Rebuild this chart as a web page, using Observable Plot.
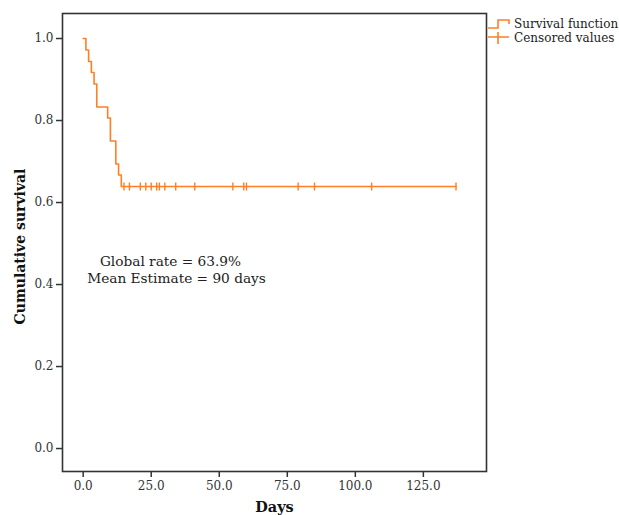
<!DOCTYPE html>
<html>
<head>
<meta charset="utf-8">
<script src="https://cdn.jsdelivr.net/npm/d3@7"></script>
<script src="https://cdn.jsdelivr.net/npm/@observablehq/plot@0.6"></script>
<style>
  html, body { margin: 0; padding: 0; background: #fff; }
  #wrap { position: relative; width: 619px; height: 515px; font-family: "DejaVu Serif", serif; }
  #legend { position: absolute; left: 486px; top: 17px; font-size: 12px; color: #222; line-height: 14px; }
  #legend .row { display: flex; align-items: center; height: 14px; }
  #legend svg { margin-right: 4px; }
</style>
</head>
<body>
<div id="wrap">
  <div id="chart"></div>
  <div id="legend">
    <div class="row"><svg width="24" height="14"><path d="M2,11H12V3H23V7" fill="none" stroke="#ff7f27" stroke-width="1.6"/></svg><span>Survival function</span></div>
    <div class="row"><svg width="24" height="14"><path d="M2,6H23M12,1V13" fill="none" stroke="#ff7f27" stroke-width="1.6"/></svg><span>Censored values</span></div>
  </div>
</div>
<script>
// Kaplan–Meier step curve (time in days, cumulative survival)
const stepDays = [0, 1, 2, 3, 4, 5, 9, 10, 12, 13, 14, 137];
const stepSurvival = [1.000, 0.972, 0.944, 0.917, 0.889, 0.833, 0.806, 0.750, 0.694, 0.667, 0.639, 0.639];
// Censored observations
const censoredDays = [15, 17, 21, 23, 25, 27, 28, 30, 34, 41, 55, 59, 60, 79, 85, 106, 137];
const censoredSurvival = censoredDays.map(() => 0.639);
// Axis ticks
const xTicks = [0, 25, 50, 75, 100, 125];
const yTicks = [0, 0.2, 0.4, 0.6, 0.8, 1.0];
// Labels
const xTitle = "Days";
const yTitle = "Cumulative survival";
const annotations = ["Global rate = 63.9%", "Mean Estimate = 90 days"];

const color = "#ff7f27";
const curve = stepDays.map((d, i) => ({day: d, s: stepSurvival[i]}));
const censored = censoredDays.map((d, i) => ({day: d, s: censoredSurvival[i]}));

const vtick = {
  draw(context, size) {
    const h = 4;
    context.moveTo(0, -h);
    context.lineTo(0, h);
  }
};

const chart = Plot.plot({
  width: 619,
  height: 515,
  marginLeft: 62,
  marginRight: 133,
  marginTop: 13,
  marginBottom: 44,
  style: {fontFamily: "DejaVu Serif, serif", fontSize: "12px", color: "#333", background: "#fff"},
  x: {domain: [-7.6, 148.2]},
  y: {domain: [-0.056, 1.061]},
  marks: [
    Plot.axisX({ticks: xTicks, tickFormat: d => d.toFixed(1), tickSize: 6, tickPadding: 4, stroke: "#333", strokeWidth: 1.5, label: null, fill: "#333", fontSize: 12}),
    Plot.axisY({ticks: yTicks, tickFormat: d => d.toFixed(1), tickSize: 6, tickPadding: 3, stroke: "#333", strokeWidth: 1.5, label: null, fill: "#333", fontSize: 12}),
    Plot.line(curve, {x: "day", y: "s", curve: "step-after", stroke: color, strokeWidth: 1.6}),
    Plot.dot(censored, {x: "day", y: "s", symbol: vtick, stroke: color, strokeWidth: 1.4, r: 4}),
    Plot.text([annotations[0]], {frameAnchor: "top-left", dx: 108, dy: 243, textAnchor: "middle", fontSize: 13.7, fill: "#222"}),
    Plot.text([annotations[1]], {frameAnchor: "top-left", dx: 114, dy: 260, textAnchor: "middle", fontSize: 13.7, fill: "#222"}),
    Plot.text([xTitle], {frameAnchor: "bottom", dy: 40, fontSize: 14.5, fontWeight: "bold", fill: "#111"}),
    Plot.text([yTitle], {frameAnchor: "left", dx: -42, dy: 4, rotate: -90, textAnchor: "middle", fontSize: 14, fontWeight: "bold", fill: "#111"}),
    Plot.frame({stroke: "#333", strokeWidth: 1.6})
  ]
});
document.getElementById("chart").append(chart);
</script>
</body>
</html>
